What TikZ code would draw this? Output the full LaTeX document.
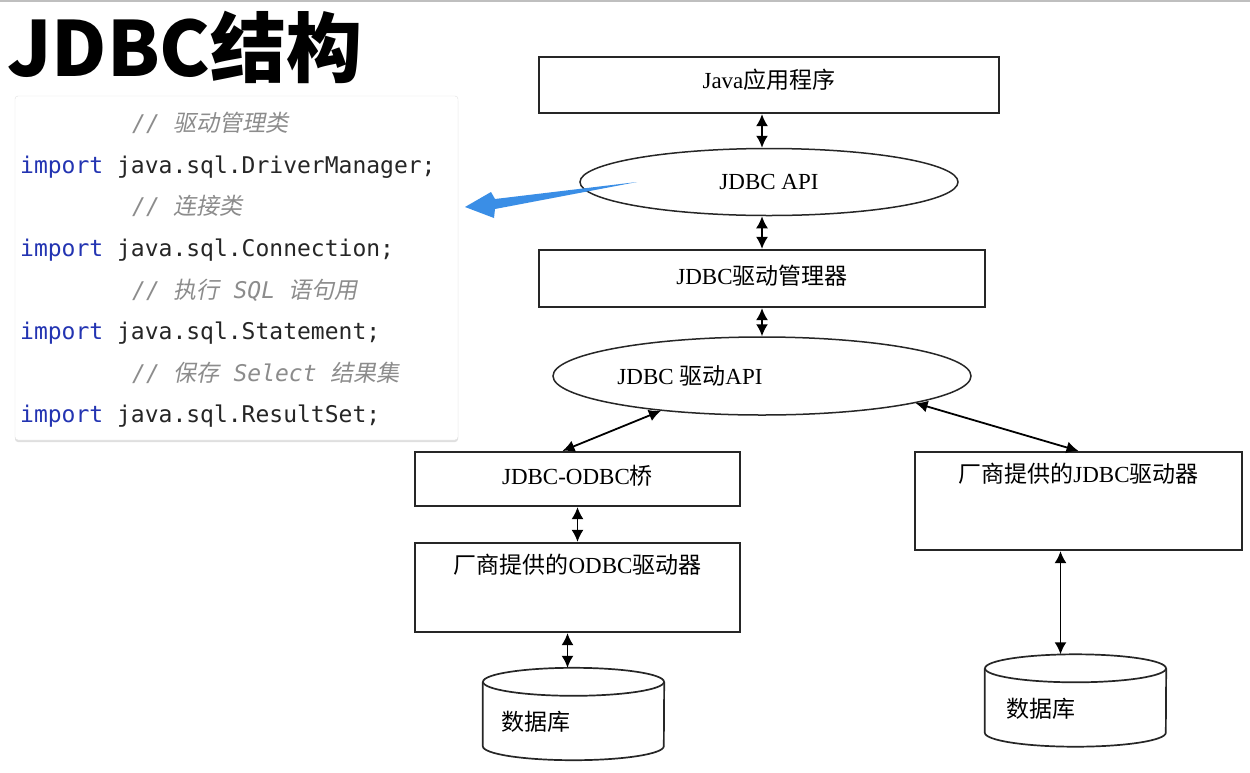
\documentclass[tikz,border=0pt]{standalone}
\usepackage{fontspec}
\setmainfont{Liberation Serif}
\setmonofont{DejaVu Sans Mono}
\newfontfamily\cjk{Noto Sans CJK SC}
\newfontfamily\cjkit[FakeSlant=0.2]{Noto Sans CJK SC}
\usetikzlibrary{shapes.geometric,arrows.meta,calc,shadows}

\definecolor{kwblue}{RGB}{35,52,178}
\definecolor{cmtgray}{RGB}{140,140,140}
\definecolor{tipblue}{RGB}{58,142,230}

\begin{document}
\begin{tikzpicture}[x=1pt,y=-1pt,
	box/.style={draw=black!85, line width=2.2pt, inner sep=0pt, font=\fontsize{23}{23}\selectfont},
	oval/.style={draw=black!85, line width=1.5pt, ellipse, inner sep=0pt, font=\fontsize{23}{23}\selectfont},
	dbstore/.style={inner sep=0pt, minimum width=181pt, minimum height=92pt},
	dbline/.style={draw=black!85, line width=1.7pt},
	txt/.style={font=\fontsize{23}{23}\selectfont, inner sep=0pt},
	link/.style={line width=1.8pt, {Latex[length=12pt,width=12pt]}-{Latex[length=12pt,width=12pt]}},
	codeline/.style={anchor=base west, inner sep=0pt, text=black!85, font=\ttfamily\fontsize{23}{23}\selectfont},
	cmt/.style={codeline, text=cmtgray}]
	\useasboundingbox (0,0) rectangle (1250,772);
	\fill[white] (0,0) rectangle (1250,772);
	\draw[black!25, line width=2pt] (0,1) -- (1250,1);

	% title and code panel
	\node[anchor=base west, inner sep=0pt, font=\cjk\bfseries\fontsize{76}{76}\selectfont] (title) at (7,76) {JDBC结构};
	\node[fill=white, draw=black!12, rounded corners=3pt, minimum width=443pt, minimum height=344pt,
		drop shadow={shadow xshift=0pt, shadow yshift=-2pt, opacity=0.25}] (code) at (236.5,268) {};
	\node[cmt] (c1) at (132,131) {{\itshape // }{\cjkit 驱动管理类}};
	\node[codeline] (l1) at (20,173) {\textcolor{kwblue}{import} java.sql.DriverManager;};
	\node[cmt] (c2) at (132,214) {{\itshape // }{\cjkit 连接类}};
	\node[codeline] (l2) at (20,256) {\textcolor{kwblue}{import} java.sql.Connection;};
	\node[cmt] (c3) at (132,298) {{\itshape // }{\cjkit 执行} {\itshape SQL} {\cjkit 语句用}};
	\node[codeline] (l3) at (20,339) {\textcolor{kwblue}{import} java.sql.Statement;};
	\node[cmt] (c4) at (132,381) {{\itshape // }{\cjkit 保存} {\itshape Select} {\cjkit 结果集}};
	\node[codeline] (l4) at (20,422) {\textcolor{kwblue}{import} java.sql.ResultSet;};

	% layers
	\node[box, minimum width=460pt, minimum height=56pt,
		label={[txt, yshift=5pt]center:Java{\cjk 应用程序}}] (app) at (769,85) {};
	\node[oval, minimum width=378pt, minimum height=67pt] (api) at (769,182) {JDBC API};
	\node[box, minimum width=446pt, minimum height=57pt,
		label={[txt, yshift=3pt]center:JDBC{\cjk 驱动管理器}}] (mgr) at (762,278.5) {};
	\node[oval, minimum width=418pt, minimum height=78pt,
		label={[txt, xshift=-72pt]center:JDBC {\cjk 驱动}API}] (drv) at (762,376) {};
	\node[box, minimum width=325pt, minimum height=54pt,
		label={[txt, yshift=3pt]center:JDBC-ODBC{\cjk 桥}}] (bridge) at (577.5,479) {};
	\node[box, minimum width=325pt, minimum height=89pt,
		label={[txt, anchor=north, yshift=-12pt]north:{\cjk 厂商提供的}ODBC{\cjk 驱动器}}] (odbc) at (577.5,587.5) {};
	\node[box, minimum width=327pt, minimum height=98pt,
		label={[txt, anchor=north, yshift=-12pt]north:{\cjk 厂商提供的}JDBC{\cjk 驱动器}}] (vnd) at (1078.5,501) {};
	\node[dbstore, label={[txt, xshift=-38pt, yshift=-8pt]center:{\cjk 数据库}}] (db1) at (573.5,714) {};
	\node[dbstore, label={[txt, xshift=-35pt, yshift=-8pt]center:{\cjk 数据库}}] (db2) at (1075.5,700.5) {};
	\foreach \db in {db1,db2} {
		\draw[dbline] ($(\db.north)+(0,14)$) ellipse (90.5 and 14);
		\draw[dbline] ($(\db.north west)+(0,14)$) -- ($(\db.south west)+(0,-14)$)
			arc (180:0:90.5 and 14) -- ($(\db.north east)+(0,14)$);
	}

	\draw[link] (app.south -| mgr) -- (api.north -| mgr);
	\draw[link] (api.south -| mgr) -- (mgr.north);
	\draw[link] (mgr.south) -- (drv.north);
	\draw[link] (drv.199) -- ($(bridge.north)+(-15,0)$);
	\draw[link] (drv.-10) -- (vnd.north);
	\draw[link] (bridge.south) -- (odbc.north);
	\draw[link] ($(odbc.south)+(-10,0)$) -- ($(db1.north)+(-6,0)$);
	\draw[link] ($(vnd.south)+(-18,0)$) -- ($(db2.north)+(-15,0)$);

	% pointer to the code
	\fill[tipblue] (637,182) -- (495,199) -- (491,192) -- (465,207) -- (494,218) -- (495,209) -- cycle;
\end{tikzpicture}
\end{document}
